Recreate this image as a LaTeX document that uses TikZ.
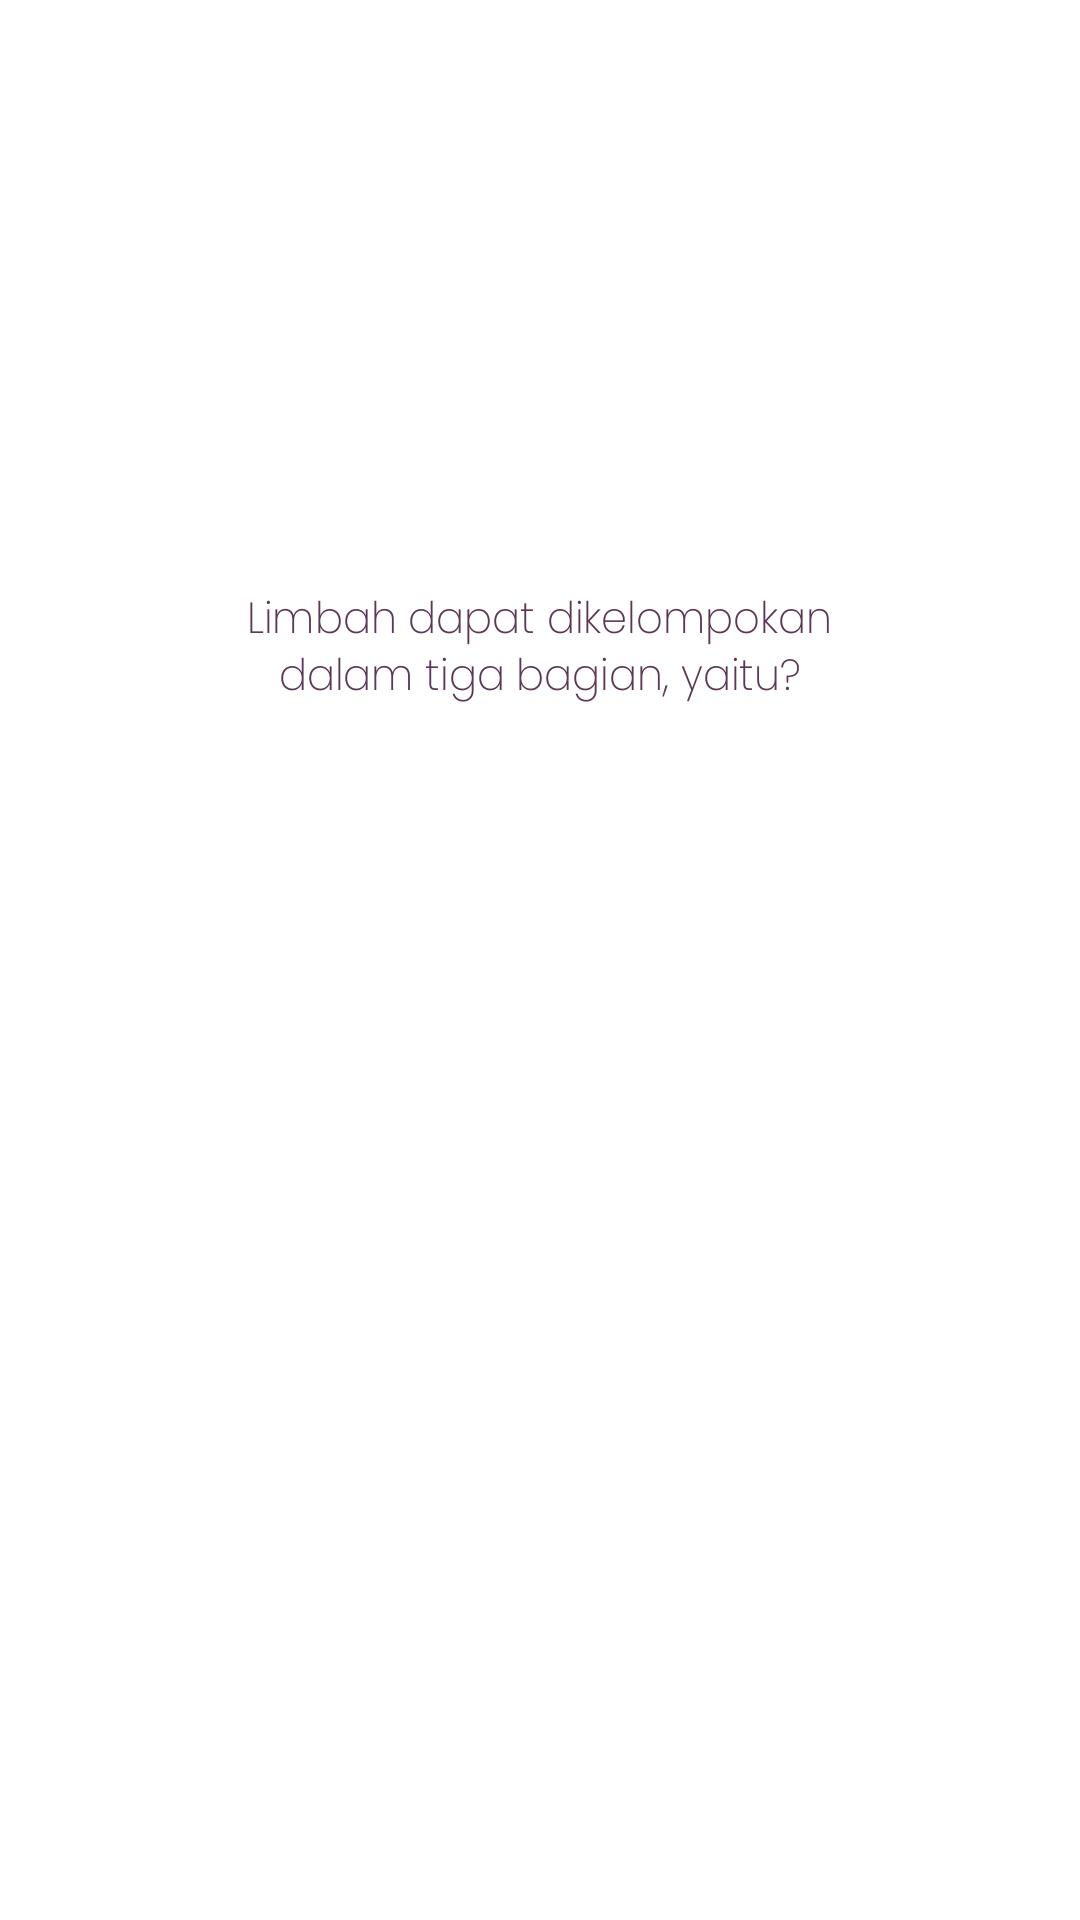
\documentclass[tikz,border=0pt]{standalone}
\usepackage{fontspec}
\setmainfont{Poppins ExtraLight}[FakeStretch=0.955]
\usepackage{xcolor}
\usepackage{tikz}
\usetikzlibrary{positioning}
\definecolor{qtext}{RGB}{92, 56, 86}
\tikzstyle{question} = [text=qtext, align=center, inner sep=0pt, font=\fontsize{12.4}{16.2}\selectfont]

\begin{document}
\begin{tikzpicture}
    \useasboundingbox [fill=white] (0,0) rectangle (10.8,19.2);
    \node [question] (quiz) at (5.40,12.68) {Limbah dapat dikelompokan\\ dalam tiga bagian, yaitu?};
\end{tikzpicture}
\end{document}
